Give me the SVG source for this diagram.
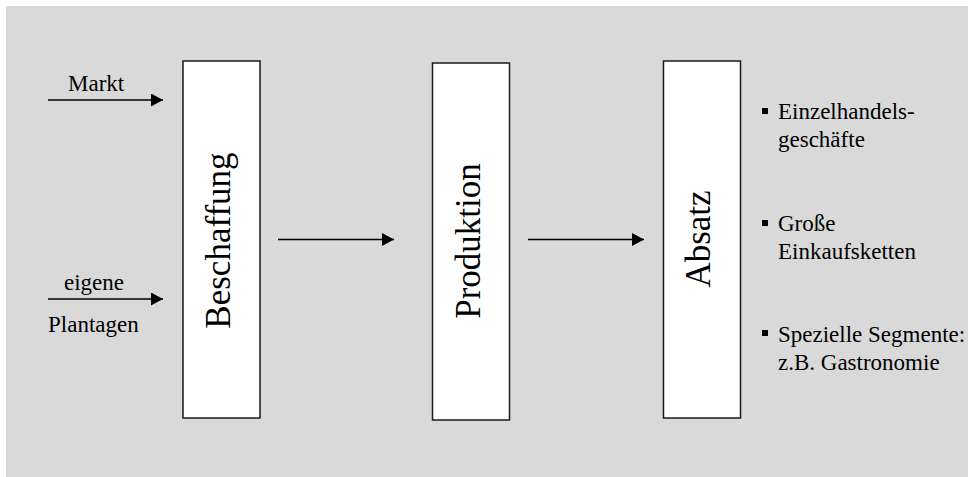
<svg xmlns="http://www.w3.org/2000/svg" width="968" height="477" viewBox="0 0 968 477">
<style>
  .bg { fill: #d9d9d9; }
  .box { fill: #ffffff; stroke: #1a1a1a; stroke-width: 1.5; }
  .big { font-family: "Liberation Serif", "Times New Roman", serif; font-size: 35px; fill: #000; text-anchor: middle; }
  .lbl { font-family: "Liberation Serif", "Times New Roman", serif; font-size: 23px; fill: #000; }
  .conn { stroke: #000; stroke-width: 1.3; fill: none; marker-end: url(#arrow); }
  .bullet { fill: #000; }
</style>
<defs>
  <marker id="arrow" markerWidth="13" markerHeight="13" refX="12" refY="6.5" orient="auto" markerUnits="userSpaceOnUse">
    <path d="M0,0 L12,6.5 L0,13 Z" fill="#000"/>
  </marker>
</defs>
<rect class="bg" x="6" y="6" width="962" height="471"/>

<g id="connectors">
  <line class="conn" x1="48" y1="100" x2="163" y2="100"/>
  <line class="conn" x1="48" y1="299" x2="163" y2="299"/>
  <line class="conn" x1="278" y1="239.5" x2="394" y2="239.5"/>
  <line class="conn" x1="528" y1="239.5" x2="644" y2="239.5"/>
</g>

<g id="input-labels">
  <text class="lbl" x="68" y="91">Markt</text>
  <text class="lbl" x="64" y="290">eigene</text>
  <text class="lbl" x="48" y="332">Plantagen</text>
</g>

<g id="beschaffung">
  <rect class="box" x="183" y="61" width="77" height="357"/>
  <text class="big" transform="translate(230,240.5) rotate(-90)">Beschaffung</text>
</g>

<g id="produktion">
  <rect class="box" x="432.5" y="63" width="77" height="357"/>
  <text class="big" transform="translate(480,241) rotate(-90)">Produktion</text>
</g>

<g id="absatz">
  <rect class="box" x="663.5" y="61" width="77" height="357"/>
  <text class="big" transform="translate(710,239) rotate(-90)">Absatz</text>
</g>

<g id="absatz-list">
  <rect class="bullet" x="762" y="108" width="6" height="6"/>
  <text class="lbl" x="778" y="118.5">Einzelhandels-</text>
  <text class="lbl" x="778" y="146.5">geschäfte</text>
  <rect class="bullet" x="762" y="220" width="6" height="6"/>
  <text class="lbl" x="778" y="230.5">Große</text>
  <text class="lbl" x="778" y="258.5">Einkaufsketten</text>
  <rect class="bullet" x="762" y="330" width="6" height="6"/>
  <text class="lbl" x="778" y="341.5">Spezielle Segmente:</text>
  <text class="lbl" x="778" y="370">z.B. Gastronomie</text>
</g>
</svg>
